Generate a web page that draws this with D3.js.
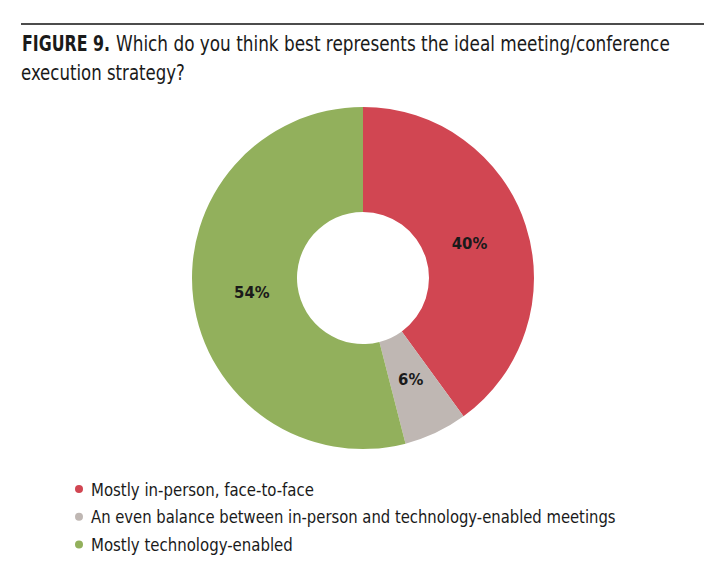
<!DOCTYPE html>
<html>
<head>
<meta charset="utf-8">
<script src="https://cdn.jsdelivr.net/npm/d3@7"></script>
<style>
  body { margin: 0; background: #fff; }
  svg text { font-family: "Liberation Sans Narrow", "DejaVu Sans Condensed", "Roboto Condensed", sans-serif; fill: #1a1a1a; }
</style>
</head>
<body>
<svg id="chart" width="718" height="582"></svg>
<script>
const categories = [
    'Mostly in-person, face-to-face',
    'An even balance between in-person and technology-enabled meetings',
    'Mostly technology-enabled'
];
const values = [40, 6, 54];
const colors = ['#d14652', '#bfb7b3', '#92b05c'];
// widths the condensed legend text occupies in the figure
const legendWidths = [223, 525, 202];

const width = 718;
const height = 582;
const cx = 363, cy = 278;
const outerR = 171, innerR = 66;

const svg = d3.select('#chart');

svg.append('rect').attr('width', width).attr('height', height).attr('fill', '#fff');

// squeeze a text horizontally so it spans w pixels (the original uses a condensed face)
function fitText(sel, x, y, w) {
    sel.each(function (d, i) {
        const tw = typeof w === 'function' ? w(d, i) : w;
        const n = this.getComputedTextLength();
        d3.select(this).attr('transform', `translate(${x},${y}) scale(${tw / n},1)`);
    });
}

// rule above the title
svg.append('line')
    .attr('x1', 21).attr('x2', 704)
    .attr('y1', 24).attr('y2', 24)
    .attr('stroke', '#111').attr('stroke-width', 1.5);

svg.append('text')
    .attr('font-weight', 'bold')
    .style('font-size', '21px')
    .text('FIGURE 9.')
    .call(fitText, 22, 51, 88);
svg.append('text')
    .style('font-size', '21px')
    .text('Which do you think best represents the ideal meeting/conference')
    .call(fitText, 116, 51, 554);
svg.append('text')
    .style('font-size', '21px')
    .text('execution strategy?')
    .call(fitText, 21, 80, 164);

const pie = d3.pie().sort(null).value(d => d);
const arc = d3.arc().innerRadius(innerR).outerRadius(outerR);
const labelArc = d3.arc().innerRadius(112).outerRadius(112);

const g = svg.append('g').attr('transform', `translate(${cx},${cy})`);
const arcs = pie(values);

g.selectAll('path')
    .data(arcs)
    .join('path')
    .attr('d', arc)
    .attr('fill', (d, i) => colors[i]);

g.selectAll('text.lbl')
    .data(arcs)
    .join('text')
    .attr('class', 'lbl')
    .attr('transform', d => `translate(${labelArc.centroid(d)})`)
    .attr('text-anchor', 'middle')
    .attr('dy', '0.35em')
    .attr('font-weight', 'bold')
    .style('font-size', '16.5px')
    .text(d => d.data + '%');

const legend = svg.append('g');
const items = legend.selectAll('g')
    .data(categories)
    .join('g')
    .attr('transform', (d, i) => `translate(79,${489 + i * 27.7})`);
items.append('circle').attr('r', 4).attr('fill', (d, i) => colors[i]);
items.append('text')
    .style('font-size', '18.5px')
    .text(d => d)
    .call(fitText, 12, 6.5, (d, i) => legendWidths[i]);
</script>
</body>
</html>
